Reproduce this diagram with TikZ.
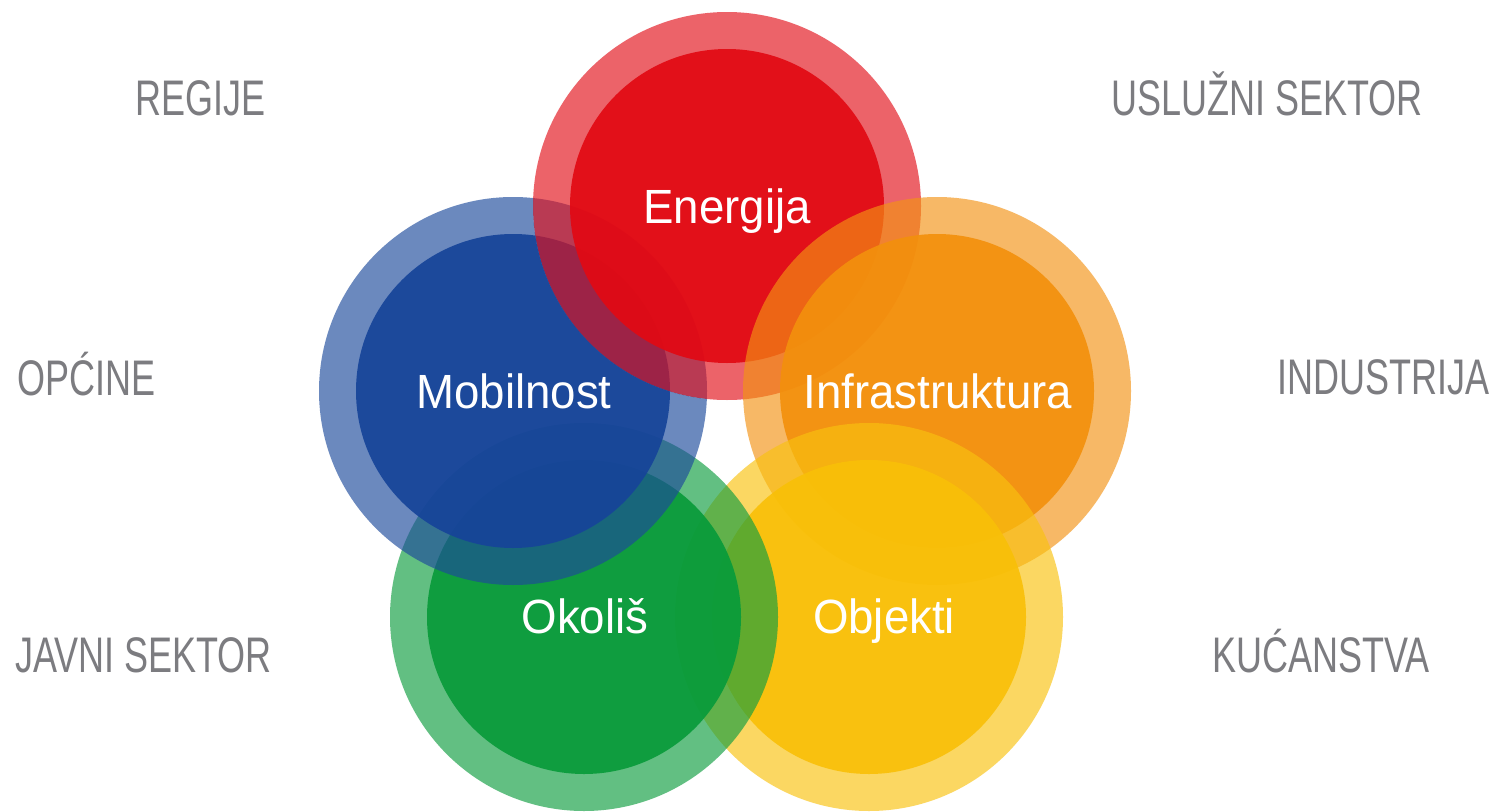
\documentclass[tikz,border=0pt]{standalone}
\usepackage{fontspec}
\setmainfont{Liberation Sans}
\newfontfamily\graylabfont{Liberation Sans}[FakeStretch=0.72]
\newfontfamily\circlabfont{Liberation Sans}[FakeStretch=0.95]
\definecolor{labgray}{RGB}{124,124,128}
\definecolor{eRing}{RGB}{227,16,26}   \definecolor{eIn}{RGB}{226,9,19}
\definecolor{mRing}{RGB}{29,74,156}   \definecolor{mIn}{RGB}{22,68,153}
\definecolor{iRing}{RGB}{243,147,20}  \definecolor{iIn}{RGB}{243,144,13}
\definecolor{oRing}{RGB}{15,158,64}   \definecolor{oIn}{RGB}{8,155,58}
\definecolor{bRing}{RGB}{249,194,15}  \definecolor{bIn}{RGB}{249,192,8}
\tikzset{
  ringfill/.style={fill=#1, fill opacity=0.65},
  innerfill/.style={fill=#1, fill opacity=0.92},
  graylab/.style={text=labgray, font={\graylabfont\fontsize{50pt}{50pt}\selectfont}, inner sep=0pt, anchor=base west},
  circlab/.style={text=white, font={\circlabfont\fontsize{48pt}{48pt}\selectfont}, inner sep=0pt, anchor=base},
}
\newcommand{\drawbubble}[3]{%
  \fill[ringfill=#2] #1 circle (194pt);
  \fill[innerfill=#3] #1 circle (157pt);
}
\begin{document}
\begin{tikzpicture}[x=1pt,y=-1pt]
\useasboundingbox (0,0) rectangle (1493,811);
\fill[white] (0,0) rectangle (1493,811);
\coordinate (cE) at (727,206);
\coordinate (cM) at (513,391);
\coordinate (cI) at (937,391);
\coordinate (cO) at (584,617);
\coordinate (cB) at (869,617);
% Mobilnost part lying under Energija
\begin{scope}
  \clip (cE) circle (194pt);
  \drawbubble{(cM)}{mRing}{mIn}
\end{scope}
% Energija
\drawbubble{(cE)}{eRing}{eIn}
% Infrastruktura over Energija
\drawbubble{(cI)}{iRing}{iIn}
% Objekti over Infrastruktura
\drawbubble{(cB)}{bRing}{bIn}
% Okolis over Objekti
\drawbubble{(cO)}{oRing}{oIn}
% Mobilnost over Okolis, outside Energija
\begin{scope}[even odd rule]
  \clip (-10,-10) rectangle (1503,821) (cE) circle (194pt);
  \drawbubble{(cM)}{mRing}{mIn}
\end{scope}
% circle labels
\node[circlab] (tE) at (727,223) {Energija};
\node[circlab] (tM) at (514,408) {Mobilnost};
\node[circlab] (tI) at (938,408) {Infrastruktura};
\node[circlab] (tO) at (585,633) {Okoliš};
\node[circlab] (tB) at (884,633) {Objekti};
% side labels
\node[graylab] (lR) at (135,115) {REGIJE};
\node[graylab] (lU) at (1111,115) {USLUŽNI SEKTOR};
\node[graylab] (lOp) at (17,395) {OPĆINE};
\node[graylab] (lIn) at (1277,394) {INDUSTRIJA};
\node[graylab] (lJ) at (15,672) {JAVNI SEKTOR};
\node[graylab] (lK) at (1212,672) {KUĆANSTVA};
\end{tikzpicture}
\end{document}
